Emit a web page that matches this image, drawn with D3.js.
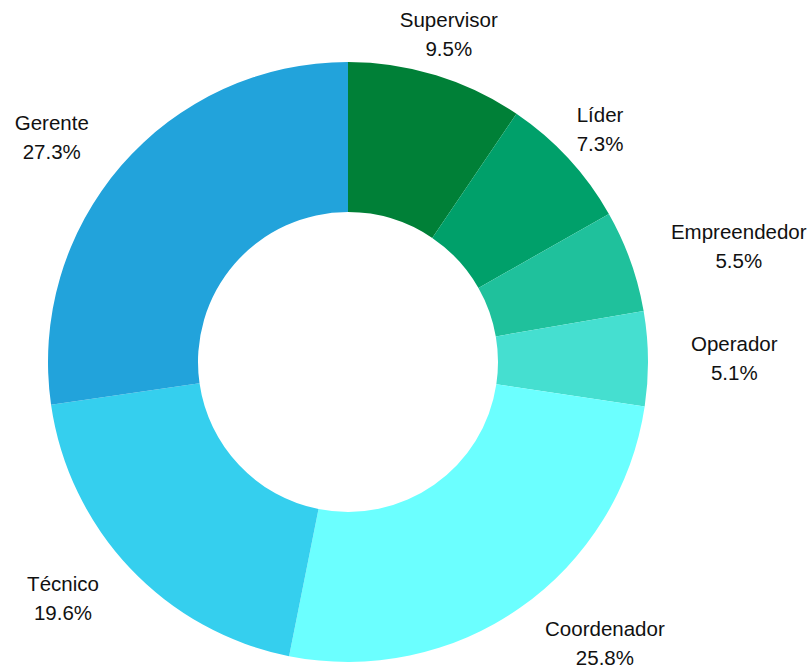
<!DOCTYPE html>
<html>
<head>
<meta charset="utf-8">
<script src="https://cdn.jsdelivr.net/npm/d3@7"></script>
<style>
  html, body { margin: 0; padding: 0; background: #fff; }
  svg { display: block; }
</style>
</head>
<body>
<div id="chart"></div>
<script>
var categories = ["Supervisor", "Líder", "Empreendedor", "Operador", "Coordenador", "Técnico", "Gerente"];
var values = [9.5, 7.3, 5.5, 5.1, 25.8, 19.6, 27.3];
var colors = ["#008037", "#00a06a", "#1fc19c", "#45dfd0", "#6bffff", "#35cfee", "#22a3db"];

var width = 810, height = 667;
var cx = 348, cy = 362;
var outer = 300, inner = 150, labelR = 343;

var svg = d3.select("#chart").append("svg")
    .attr("width", width).attr("height", height);

var g = svg.append("g").attr("transform", "translate(" + cx + "," + cy + ")");

var data = categories.map(function(c, i) { return {name: c, value: values[i], color: colors[i]}; });

var pie = d3.pie().sort(null).value(function(d) { return d.value; });
var arc = d3.arc().innerRadius(inner).outerRadius(outer);

var arcs = pie(data);

g.selectAll(".slice")
    .data(arcs)
    .enter()
    .append("path")
    .attr("class", "slice")
    .attr("d", arc)
    .style("fill", function(d) { return d.data.color; });

// two-line label blocks, lines centred on each other, block edge touching the label point
var labels = g.selectAll(".lbl")
    .data(arcs)
    .enter()
    .append("text")
    .attr("class", "lbl")
    .style("font-family", "'Liberation Sans', Arial, sans-serif")
    .style("font-size", "20.5px")
    .style("fill", "#111")
    .attr("text-anchor", "middle");

labels.append("tspan")
    .attr("x", 0)
    .attr("y", -14.5)
    .attr("dominant-baseline", "central")
    .text(function(d) { return d.data.name; });

labels.append("tspan")
    .attr("x", 0)
    .attr("y", 14.5)
    .attr("dominant-baseline", "central")
    .text(function(d) { return d.data.value.toFixed(1) + "%"; });

labels.attr("transform", function(d) {
    var a = (d.startAngle + d.endAngle) / 2;
    var s = Math.sin(a), c = Math.cos(a);
    var w = d3.max(d3.select(this).selectAll("tspan").nodes(), function(n) { return n.getComputedTextLength(); });
    var shift = 0;
    if (c < 0.67) shift = s > 0 ? w / 2 : -w / 2;
    return "translate(" + (labelR * s + shift) + "," + (-labelR * c) + ")";
});
</script>
</body>
</html>
